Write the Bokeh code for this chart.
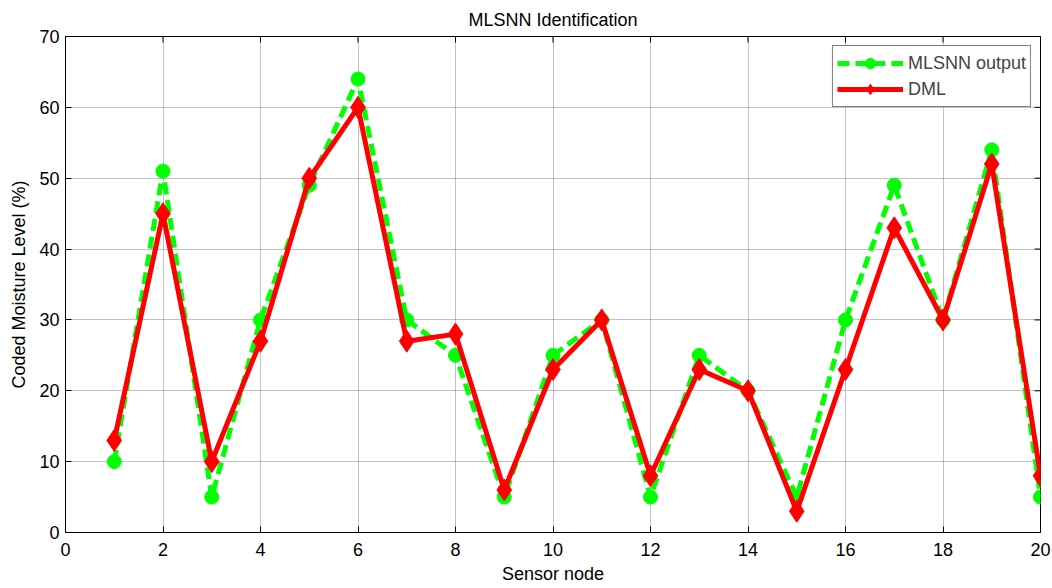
import math
from bokeh.plotting import figure
from bokeh.models import Range1d, FixedTicker, Title
from bokeh.embed import file_html
from bokeh.resources import INLINE

# Sensor nodes and coded moisture levels
nodes = list(range(1, 21))
mlsnn_output = [10, 51, 5, 30, 49, 64, 30, 25, 5, 25, 30, 5, 25, 20, 5, 30, 49, 30, 54, 5]
dml = [13, 45, 10, 27, 50, 60, 27, 28, 6, 23, 30, 8, 23, 20, 3, 23, 43, 30, 52, 8]

x_ticks = list(range(0, 21, 2))
y_ticks = list(range(0, 71, 10))
x_min, x_max = 0, 20
y_min, y_max = 0, 70

FONT = "Liberation Sans"
FS = "18px"

p = figure(
    width=1052, height=588,
    x_range=Range1d(x_min, x_max), y_range=Range1d(y_min, y_max),
    output_backend="svg", toolbar_location=None,
    min_border_left=65, min_border_right=12,
    min_border_top=36, min_border_bottom=56,
)
p.title = None
p.add_layout(Title(text="MLSNN Identification", align="center",
                   text_font=FONT, text_font_size=FS, standoff=13,
                   text_font_style="normal", text_color="black"), "above")

p.outline_line_color = "black"
p.outline_line_width = 1
p.background_fill_color = "white"
p.border_fill_color = "white"

for ax in (p.xaxis[0], p.yaxis[0]):
    ax.major_tick_in = 6
    ax.major_tick_out = 0
    ax.minor_tick_line_color = None
    ax.axis_line_color = "black"
    ax.major_tick_line_color = "black"
    ax.major_label_text_font = FONT
    ax.major_label_text_font_size = FS
    ax.major_label_text_color = "black"
    ax.axis_label_text_font = FONT
    ax.axis_label_text_font_size = FS
    ax.axis_label_text_font_style = "normal"
    ax.axis_label_text_color = "black"

p.xaxis[0].ticker = FixedTicker(ticks=x_ticks)
p.yaxis[0].ticker = FixedTicker(ticks=y_ticks)
p.xaxis[0].axis_label = "Sensor node"
p.yaxis[0].axis_label = "Coded Moisture Level (%)"
p.xaxis[0].major_label_standoff = 10
p.xaxis[0].axis_label_standoff = 5
p.yaxis[0].major_label_standoff = 6
p.yaxis[0].axis_label_standoff = 7

p.xgrid.ticker = FixedTicker(ticks=x_ticks)
p.ygrid.ticker = FixedTicker(ticks=y_ticks)
for g in (p.xgrid[0], p.ygrid[0]):
    g.grid_line_color = "#666666"
    g.grid_line_dash = "1 1"
    g.grid_line_width = 1
    g.grid_line_alpha = 0.8

# inward tick marks mirrored on the top and right edges of the box
p.scatter(x_ticks, [y_max] * len(x_ticks), marker="dash", angle=math.pi / 2,
          size=12, line_color="black", line_width=1)
p.scatter([x_max] * len(y_ticks), y_ticks, marker="dash",
          size=12, line_color="black", line_width=1)

GREEN = "#00ff00"
RED = "#ff0000"

p.line(nodes, mlsnn_output, line_color=GREEN, line_width=5, line_dash="12 6",
       legend_label="MLSNN output")
p.scatter(nodes, mlsnn_output, marker="circle", size=14, fill_color=GREEN,
          line_color=GREEN, legend_label="MLSNN output")

p.line(nodes, dml, line_color=RED, line_width=5, legend_label="DML")
p.scatter(nodes, dml, marker="diamond", size=22, fill_color=RED,
          line_color=RED, legend_label="DML")

lg = p.legend[0]
lg.location = "top_right"
lg.border_line_color = "black"
lg.border_line_width = 1
lg.background_fill_alpha = 1
lg.label_text_font = FONT
lg.label_text_font_size = FS
lg.glyph_width = 66
lg.glyph_height = 26
lg.spacing = 0
lg.padding = 4
lg.margin = 9
lg.label_standoff = 5

open("out.html", "w").write(file_html(p, INLINE))
